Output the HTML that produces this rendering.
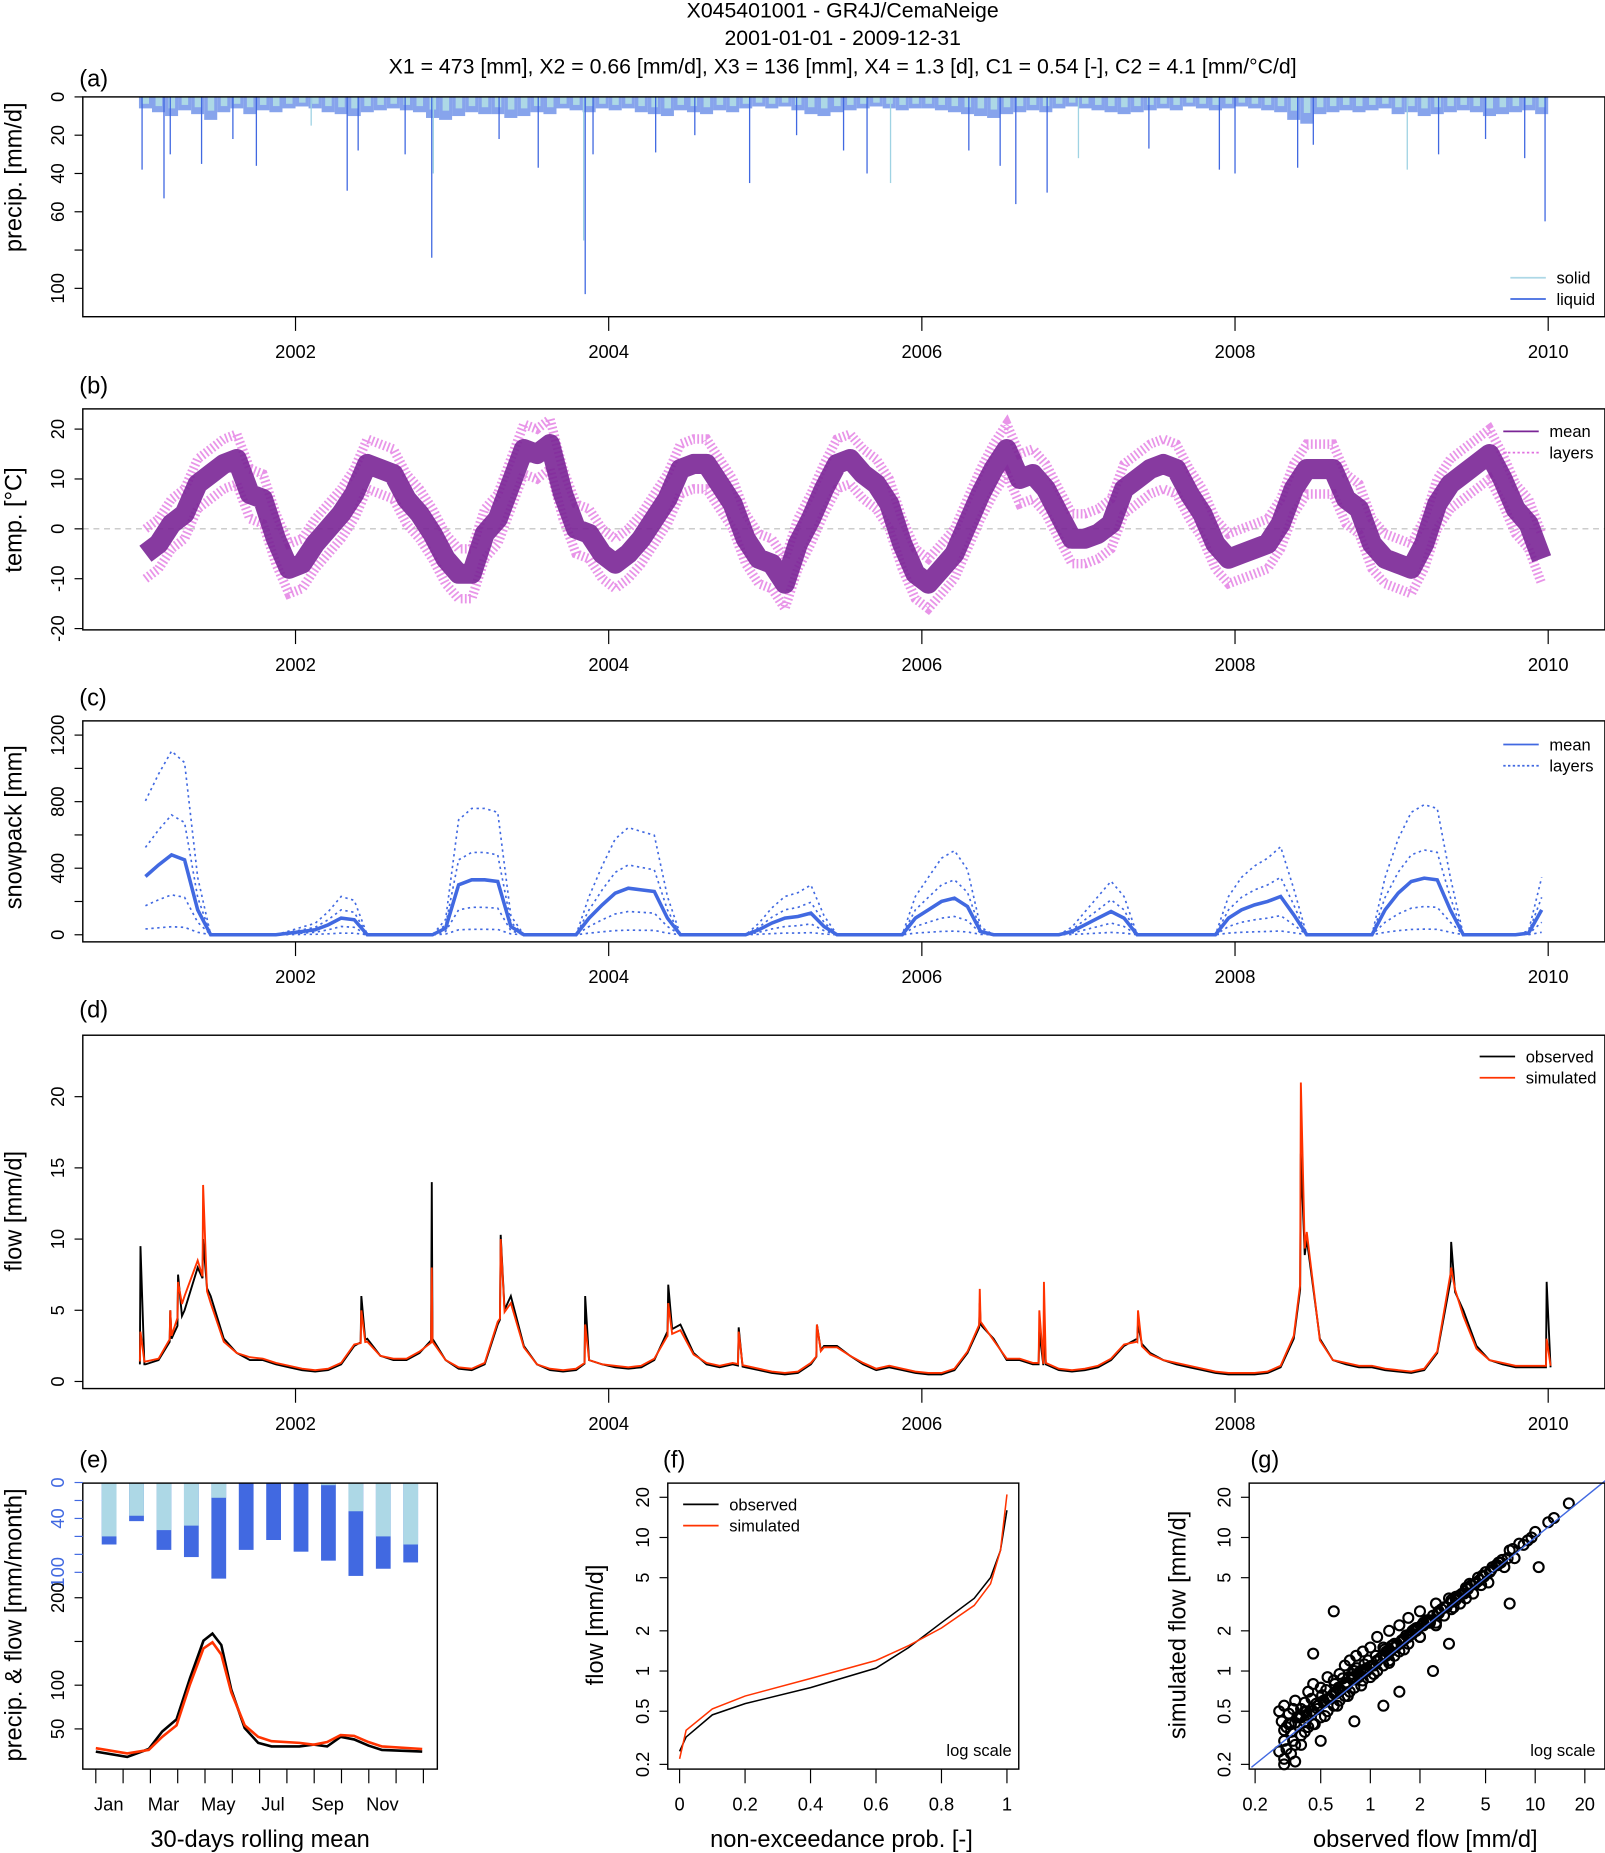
<!DOCTYPE html>
<html><head><meta charset="utf-8"><style>
html,body{margin:0;padding:0;background:#fff}
svg{display:block;font-family:"Liberation Sans",Arial,sans-serif}
</style></head><body>
<svg id="chart" xmlns="http://www.w3.org/2000/svg" width="1605" height="1853" viewBox="0 0 1358 1568">
<g font-size="18" text-anchor="middle">
<text x="713" y="15">X045401001 - GR4J/CemaNeige</text>
<text x="713" y="38">2001-01-01 - 2009-12-31</text>
<text x="713" y="62">X1 = 473 [mm], X2 = 0.66 [mm/d], X3 = 136 [mm], X4 = 1.3 [d], C1 = 0.54 [-], C2 = 4.1 [mm/°C/d]</text>
</g>
</svg>
<script>
// ---------- data ----------
const years=[2002,2004,2006,2008,2010];
const precipEventT=[2001.02,2001.16,2001.2,2001.4,2001.6,2001.75,2002.1,2002.33,2002.4,2002.7,2002.87,2002.88,2003.3,2003.55,2003.84,2003.85,2003.9,2004.3,2004.55,2004.9,2005.2,2005.5,2005.65,2005.8,2006.3,2006.5,2006.6,2006.8,2007.0,2007.45,2007.9,2008.0,2008.4,2008.5,2009.1,2009.3,2009.6,2009.85,2009.98];
const precipEventMM=[38,53,30,35,22,36,15,49,28,30,84,40,22,37,75,103,30,29,20,45,20,28,40,45,28,36,56,50,32,27,38,40,37,25,38,30,22,32,65];
const precipEventSolid=[0,0,0,0,0,0,1,0,0,0,0,1,0,0,1,0,0,0,0,0,0,0,0,1,0,0,0,0,1,0,0,0,0,0,1,0,0,0,0];
const precipFringe=[6,8,10,7,9,12,8,6,9,7,8,6,5,6,8,9,10,8,7,6,7,8,11,12,10,8,9,9,11,10,8,9,6,7,8,6,7,6,8,9,10,7,8,9,7,8,6,5,6,5,7,9,10,8,7,6,5,6,7,6,6,7,8,9,10,11,9,8,7,8,6,5,6,7,8,9,8,7,6,7,5,6,7,6,5,6,7,8,12,14,9,8,7,8,7,6,9,8,10,9,8,7,8,10,9,8,7,9];
const tempMean=[-5,-3,1,3,9,11,13,14,7,6,-2,-8,-7,-3,0,3,7,13,12,11,6,3,-1,-6,-9,-9,-1,2,9,16,15,17,7,0,-1,-5,-7,-5,-2,2,6,12,13,13,9,5,-2,-6,-7,-11,-3,2,8,13,14,11,9,5,-3,-9,-11,-8,-5,1,7,12,16,10,11,8,3,-2,-2,-1,1,8,10,12,13,12,7,3,-3,-6,-5,-4,-3,1,8,12,12,12,6,4,-3,-6,-7,-8,-3,5,9,11,13,15,10,4,1,-6];
const tempLayerOffsets=[-5,5];
const snowMean=[350,420,480,450,150,0,0,0,0,0,0,10,20,30,60,100,90,0,0,0,0,0,0,40,300,330,330,320,50,0,0,0,0,0,100,180,250,280,270,260,100,0,0,0,0,0,0,30,70,100,110,130,50,0,0,0,0,0,0,100,150,200,220,170,20,0,0,0,0,0,0,20,60,100,140,100,0,0,0,0,0,0,0,100,150,180,200,230,120,0,0,0,0,0,0,150,250,320,340,330,150,0,0,0,0,0,10,150];
const snowLayerFactors=[0.1,0.5,1.5,2.3];
const flowObs=[1.2,1.5,3,5,8,6,3,2,1.5,1.5,1.2,1,0.8,0.7,0.8,1.2,2.5,3,1.8,1.5,1.5,2,3,1.5,0.9,0.8,1.2,4,6,2.5,1.2,0.8,0.7,0.8,1.5,1.2,1,0.9,1,1.5,3.5,4,2,1.2,1,1.2,1,0.8,0.6,0.5,0.6,1.2,2.5,2.5,1.8,1.2,0.8,1,0.8,0.6,0.5,0.5,0.8,2,4,3,1.5,1.5,1.2,1.2,0.8,0.7,0.8,1,1.5,2.5,3,2,1.5,1.2,1,0.8,0.6,0.5,0.5,0.5,0.6,1,3,10,3,1.5,1.2,1,1,0.8,0.7,0.6,0.8,2,7,5,2.5,1.5,1.2,1,1,1];
const flowSim=[1.4,1.6,3.2,6,8.5,5.5,2.8,2,1.7,1.6,1.3,1.1,0.9,0.8,0.9,1.3,2.6,2.8,1.8,1.6,1.6,2.1,2.8,1.5,1,0.9,1.3,4.2,5.5,2.4,1.2,0.9,0.8,0.9,1.5,1.2,1.1,1,1.1,1.6,3.2,3.6,1.9,1.3,1.1,1.3,1.1,0.9,0.7,0.6,0.7,1.3,2.4,2.4,1.8,1.3,0.9,1.1,0.9,0.7,0.6,0.6,0.9,2.1,4.2,2.9,1.6,1.6,1.3,1.3,0.9,0.8,0.9,1.1,1.6,2.6,2.8,1.9,1.5,1.3,1.1,0.9,0.7,0.6,0.6,0.6,0.7,1.1,3.2,10.5,2.9,1.5,1.3,1.1,1.1,0.9,0.8,0.7,0.9,2.1,7.5,4.6,2.3,1.5,1.3,1.1,1.1,1.1];
const spikeT=[2001.01,2001.2,2001.25,2001.41,2002.42,2002.87,2003.31,2003.85,2004.38,2004.83,2005.33,2006.37,2006.75,2006.78,2007.38,2008.42,2009.38,2009.99];
const spikeObs=[9.5,5,7.5,10,6,14,10.3,6,6.8,3.8,4,5.5,3.5,4,4,16,9.8,7];
const spikeSim=[3.5,5,7,13.8,5,8,10,4,5.5,3.5,4,6.5,5,7,5,21,8,3];
const months=["Jan","Mar","May","Jul","Sep","Nov"];
const monthSolid=[60,37,53,48,17,1,0,0,3,32,60,69];
const monthTotal=[69,43,75,83,107,75,64,77,87,104,96,89];
const regimeDay=[0,35,59,74,90,105,120,130,140,151,166,181,196,227,243,258,273,288,304,319,364];
const regimeObs=[24,18,27,47,61,108,151,159,146,95,51,34,30,30,32,30,41,38,31,26,24];
const regimeSim=[28,22,26,41,54,101,142,149,135,92,54,41,36,34,32,35,43,42,35,30,27];
const fdcProb=[0,0.02,0.1,0.2,0.4,0.6,0.7,0.8,0.9,0.95,0.98,1.0];
const fdcObs=[0.25,0.32,0.47,0.57,0.75,1.05,1.5,2.3,3.5,5,8,16];
const fdcSim=[0.22,0.36,0.52,0.65,0.88,1.2,1.55,2.1,3.1,4.5,8,21];
const scatObs=[0.28,0.28,0.3,0.3,0.3,0.32,0.33,0.33,0.35,0.35,0.36,0.38,0.38,0.4,0.4,0.42,0.42,0.45,0.45,0.45,0.48,0.5,0.5,0.52,0.55,0.55,0.58,0.6,0.6,0.62,0.65,0.65,0.7,0.7,0.72,0.75,0.75,0.8,0.8,0.82,0.85,0.9,0.9,0.95,1.0,1.0,1.05,1.1,1.1,1.2,1.2,1.25,1.3,1.3,1.4,1.4,1.5,1.5,1.6,1.7,1.7,1.8,1.9,2.0,2.0,2.2,2.3,2.5,2.5,2.7,2.8,3.0,3.2,3.4,3.5,3.8,4.0,4.2,4.5,5.0,5.2,5.5,6.0,6.5,7.0,7.5,8.0,9.0,10,12,13,16,0.45,0.6,0.38,1.2,2.4,7,10.5,0.3,0.35,0.5,0.8,1.5,3,0.4,0.55,0.7,0.9,1.1,1.4,1.8,2.2,2.8,3.6,4.6,0.33,0.48,0.65,0.85,1.15,1.6,2.1,3.3,5.8,0.37,0.44,0.52,0.62,0.78,0.95,1.25,1.7,2.6,4.1,
0.29,0.31,0.34,0.37,0.41,0.44,0.47,0.51,0.54,0.57,0.61,0.64,0.68,0.71,0.74,0.78,0.83,0.87,0.92,0.97,1.02,1.08,1.15,1.22,1.28,1.35,1.45,1.55,1.65,1.75,1.85,1.95,2.1,2.25,2.4,2.6,2.9,3.1,3.3,3.7,3.9,4.4,4.8,5.3,5.9,6.3,6.8,7.3,8.5,9.5,
0.3,0.32,0.35,0.38,0.41,0.44,0.48,0.52,0.56,0.6,0.66,0.72,0.78,0.85,0.92,1.0,1.1,1.2,1.32,1.45,1.58,1.72,1.9,2.05,2.3,2.55,2.85,3.15,3.5,3.9,4.3,4.9,5.4,6.2,0.31,0.34,0.4,0.46,0.53,0.63,0.73,0.88,1.05,1.3,1.6,2.0,2.5,3.1,3.8,4.7];
const scatSim=[0.5,0.25,0.55,0.3,0.22,0.48,0.35,0.24,0.6,0.28,0.45,0.52,0.33,0.58,0.42,0.7,0.38,0.8,0.5,0.4,0.55,0.75,0.45,0.6,0.9,0.5,0.65,0.85,0.55,0.7,0.95,0.6,1.1,0.65,0.8,1.2,0.7,1.0,0.75,1.3,0.9,1.4,0.85,1.0,1.5,0.9,1.1,1.8,1.0,1.5,1.1,1.3,2.0,1.2,1.6,1.3,2.2,1.4,1.7,2.5,1.6,1.9,2.1,2.8,1.8,2.4,2.3,3.2,2.2,2.9,2.6,3.5,3.0,3.6,3.2,4.2,4.5,3.8,5.0,5.5,4.6,6.0,6.5,6.0,8.0,7.0,9.0,9.5,11,13,14,18,1.35,2.8,0.28,0.55,1.0,3.2,6,0.2,0.21,0.3,0.42,0.7,1.6,0.5,0.62,0.8,1.0,1.2,1.5,2.0,2.3,3.0,3.8,4.8,0.4,0.52,0.72,0.95,1.25,1.75,2.2,3.4,6.2,0.45,0.5,0.58,0.68,0.9,1.05,1.4,1.8,2.8,4.4,
0.42,0.38,0.52,0.46,0.5,0.62,0.57,0.66,0.72,0.62,0.8,0.75,0.88,0.82,0.9,0.95,1.05,1.0,1.12,1.2,1.1,1.3,1.25,1.45,1.4,1.55,1.6,1.7,1.85,1.9,2.05,2.1,2.3,2.4,2.6,2.7,3.0,3.4,3.6,3.8,4.2,4.6,5.2,5.5,6.2,6.8,7.0,8.2,8.8,10,
0.36,0.4,0.41,0.45,0.47,0.5,0.55,0.58,0.62,0.68,0.72,0.78,0.86,0.92,1.0,1.08,1.18,1.3,1.4,1.55,1.7,1.85,2.0,2.2,2.4,2.7,3.0,3.3,3.7,4.1,4.5,5.1,5.7,6.5,0.26,0.3,0.35,0.4,0.46,0.55,0.65,0.78,0.95,1.15,1.45,1.8,2.3,2.9,3.5,4.4];

// ---------- helpers ----------
const NS="http://www.w3.org/2000/svg";
const svg=document.getElementById('chart');
function mk(tag,attrs,parent){const e=document.createElementNS(NS,tag);for(const k in attrs)e.setAttribute(k,attrs[k]);(parent||svg).appendChild(e);return e;}
function txt(x,y,s,size,parent,extra){const e=mk('text',Object.assign({x:x,y:y,'font-size':size},extra||{}),parent);e.textContent=s;return e;}
const X0=117.5, PXY=132.5;
const tx=t=>X0+(t-2001)*PXY;
const mT=m=>2001+(m+0.5)/12;

function panelBox(g,x,y,w,h){const r=mk('rect',{x:x,y:y,width:w,height:h,fill:'none',stroke:'#000','stroke-width':1.2},g);

}
function yearAxis(g,bottom){const ax=mk('g',{},g);


years.forEach(y=>{mk('line',{x1:tx(y),x2:tx(y),y1:bottom,y2:bottom+12,stroke:'#000'},ax);
const t=txt(tx(y),bottom+35,String(y),15.5,ax,{'text-anchor':'middle'});

});}
function yAxis(g,vals,labels,fy,xl,color){const ax=mk('g',{},g);


vals.forEach((v,i)=>{const y=fy(v);mk('line',{x1:xl-7,x2:xl,y1:y,y2:y,stroke:color||'#000'},ax);
if(labels[i]!==''){const t=txt(xl-16,y,labels[i],15.5,ax,{'text-anchor':'middle',transform:`rotate(-90 ${xl-16} ${y})`,fill:color||'#000'});

}});}
function yTitle(g,x,y,s){const t=txt(x,y,s,20,g,{'text-anchor':'middle',transform:`rotate(-90 ${x} ${y})`});

}
function pLabel(g,x,y,s){const t=txt(x,y,s,20,g);

}
function legend(g,x,y,items){const lg=mk('g',{},g);


items.forEach((it,i)=>{const yy=y+i*18;mk('line',{x1:x,x2:x+30,y1:yy,y2:yy,stroke:it[1],'stroke-width':1.5,'stroke-dasharray':it[2]||'none'},lg);
const t=txt(x+39,yy+5,it[0],14,lg);

});}
function poly(g,pts,attrs){return mk('polyline',Object.assign({points:pts.map(p=>p[0].toFixed(1)+','+p[1].toFixed(1)).join(' '),fill:'none'},attrs),g);}

// ---------- (a) precipitation ----------
(function(){const g=mk('g',{});


const top=82,bot=268,fy=v=>top+v*1.62;
pLabel(g,67,73,'(a)');
precipFringe.forEach((d,m)=>{const x=tx(2001+m/12);const r=mk('rect',{x:x,y:top,width:PXY/12,height:fy(d)-top,fill:'#5f86e6',opacity:0.75},g);


const r2=mk('rect',{x:x+3,y:top,width:PXY/24,height:(fy(d)-top)*0.6,fill:'#add8e6'},g);

});
precipEventT.forEach((t,i)=>{const l=mk('line',{x1:tx(t),x2:tx(t),y1:top,y2:fy(precipEventMM[i]),stroke:precipEventSolid[i]?'#9fd3e3':'#4169e1','stroke-width':1.1},g);

});
panelBox(g,70,top,1288,bot-top);
yAxis(g,[0,20,40,60,80,100],['0','20','40','60','','100'],fy,70);
yTitle(g,18,150,'precip. [mm/d]');
yearAxis(g,bot);
legend(g,1278,235,[['solid','#add8e6'],['liquid','#4169e1']]);})();

// ---------- (b) temperature ----------
(function(){const g=mk('g',{});


const top=346,bot=533,fy=v=>447.5-v*4.22;
pLabel(g,67,333,'(b)');
mk('line',{x1:70,x2:1358,y1:fy(0),y2:fy(0),stroke:'#bbb','stroke-dasharray':'5,4'},g);
tempLayerOffsets.forEach(o=>{const p=poly(g,tempMean.map((v,m)=>[tx(mT(m)),fy(v+o)]),{stroke:'#e070e0','stroke-width':8,'stroke-dasharray':'1.5,2',opacity:0.75});

});
const p=poly(g,tempMean.map((v,m)=>[tx(mT(m)),fy(v)]),{stroke:'#7a2596','stroke-width':17,'stroke-linejoin':'round',opacity:0.9});


panelBox(g,70,top,1288,bot-top);
yAxis(g,[20,10,0,-10,-20],['20','10','0','-10','-20'],fy,70);
yTitle(g,18,440,'temp. [°C]');
yearAxis(g,bot);
legend(g,1272,365,[['mean','#7a2596'],['layers','#e070e0','2,2']]);})();

// ---------- (c) snowpack ----------
(function(){const g=mk('g',{});


const top=610,bot=797,fy=v=>791-v*0.1408;
pLabel(g,67,597,'(c)');
snowLayerFactors.forEach(f=>{const p=poly(g,snowMean.map((v,m)=>[tx(mT(m)),fy(v*f)]),{stroke:'#4169e1','stroke-width':1.4,'stroke-dasharray':'2,3'});

});
const p=poly(g,snowMean.map((v,m)=>[tx(mT(m)),fy(v)]),{stroke:'#4169e1','stroke-width':3});


panelBox(g,70,top,1288,bot-top);
yAxis(g,[0,200,400,600,800,1000,1200],['0','','400','','800','','1200'],fy,70);
yTitle(g,18,700,'snowpack [mm]');
yearAxis(g,bot);
legend(g,1272,630,[['mean','#4169e1'],['layers','#4169e1','2,2']]);})();

// ---------- (d) flow ----------
(function(){const g=mk('g',{});


const top=876,bot=1175,fy=v=>1169-v*12.05;
pLabel(g,67,861,'(d)');
function series(base,spk){const pts=base.map((v,m)=>[mT(m),v]);
function interp(t){for(let i=0;i<pts.length-1;i++){if(t>=pts[i][0]&&t<=pts[i+1][0]){const f=(t-pts[i][0])/(pts[i+1][0]-pts[i][0]);return pts[i][1]*(1-f)+pts[i+1][1]*f;}}return t<pts[0][0]?pts[0][1]:pts[pts.length-1][1];}
const all=pts.slice();spikeT.forEach((t,i)=>{all.push([t-0.004,interp(t-0.004)]);all.push([t,spk[i]]);all.push([t+0.025,interp(t+0.025)]);});
all.sort((a,b)=>a[0]-b[0]);return all.map(p=>[tx(p[0]),fy(p[1])]);}
const po=poly(g,series(flowObs,spikeObs),{stroke:'#000','stroke-width':1.6});


const ps=poly(g,series(flowSim,spikeSim),{stroke:'#ff3300','stroke-width':1.6});


panelBox(g,70,top,1288,bot-top);
yAxis(g,[0,5,10,15,20],['0','5','10','15','20'],fy,70);
yTitle(g,18,1025,'flow [mm/d]');
yearAxis(g,bot);
legend(g,1252,894,[['observed','#000'],['simulated','#ff3300']]);})();

// ---------- (e) regime ----------
(function(){const g=mk('g',{});


const top=1255,bot=1497,fyb=v=>1254.5+v*0.76,fyf=v=>1500-v*0.74,fx=d=>81+d*(277/365);
pLabel(g,67,1242,'(e)');
monthTotal.forEach((tot,m)=>{const x=86+m*23.2;
const r1=mk('rect',{x:x,y:fyb(0),width:12.5,height:fyb(tot)-fyb(0),fill:'#4169e1'},g);


const r2=mk('rect',{x:x,y:fyb(0),width:12.5,height:fyb(monthSolid[m])-fyb(0),fill:'#add8e6'},g);

});
const po=poly(g,regimeDay.map((d,i)=>[fx(d),fyf(regimeObs[i])]),{stroke:'#000','stroke-width':2.2});


const ps=poly(g,regimeDay.map((d,i)=>[fx(d),fyf(regimeSim[i])]),{stroke:'#ff3300','stroke-width':2.2});


panelBox(g,70,top,300,bot-top);
yAxis(g,[0,20,40,60,80,100],['0','','40','','','100'],fyb,70,'#4169e1');
yAxis(g,[50,100,150,200],['50','100','','200'],fyf,70);
yTitle(g,18,1375,'precip. & flow [mm/month]');
const ax=mk('g',{},g);


for(let i=0;i<13;i++){const x=81+i*23.1;mk('line',{x1:x,x2:x,y1:bot,y2:bot+12,stroke:'#000'},ax);}
months.forEach((mn,i)=>{const t=txt(92+i*46.3,1532,mn,15.5,ax,{'text-anchor':'middle'});

});
const xt=txt(220,1563,'30-days rolling mean',20,g,{'text-anchor':'middle'});

})();

// ---------- log helpers ----------
const logTicks=[0.2,0.5,1,2,5,10,20];
const fyl=v=>1493-Math.log10(v/0.2)*113;

// ---------- (f) FDC ----------
(function(){const g=mk('g',{});


const top=1255,bot=1497,fx=p=>575+p*277;
pLabel(g,561,1242,'(f)');
const po=poly(g,fdcProb.map((p,i)=>[fx(p),fyl(fdcObs[i])]),{stroke:'#000','stroke-width':1.3});


const ps=poly(g,fdcProb.map((p,i)=>[fx(p),fyl(fdcSim[i])]),{stroke:'#ff3300','stroke-width':1.3});


panelBox(g,565,top,297,bot-top);
yAxis(g,logTicks,logTicks.map(String),fyl,565);
yTitle(g,510,1375,'flow [mm/d]');
const ax=mk('g',{},g);


[0,0.2,0.4,0.6,0.8,1].forEach(p=>{mk('line',{x1:fx(p),x2:fx(p),y1:bot,y2:bot+12,stroke:'#000'},ax);
const t=txt(fx(p),1532,String(p),15.5,ax,{'text-anchor':'middle'});

});
const xt=txt(712,1563,'non-exceedance prob. [-]',20,g,{'text-anchor':'middle'});


legend(g,578,1273,[['observed','#000'],['simulated','#ff3300']]);
const ls=txt(856,1486,'log scale',14,g,{'text-anchor':'end'});

})();

// ---------- (g) scatter ----------
(function(){const g=mk('g',{});


const top=1255,bot=1497,fx=v=>1062+Math.log10(v/0.2)*139.5;
pLabel(g,1058,1242,'(g)');
const n=Math.min(scatObs.length,scatSim.length);
for(let i=0;i<n;i++){const c=mk('circle',{cx:fx(scatObs[i]),cy:fyl(scatSim[i]),r:4.2,fill:'none',stroke:'#000','stroke-width':1.8},g);

}
const d=mk('line',{x1:fx(0.19),y1:fyl(0.19),x2:fx(28),y2:fyl(28),stroke:'#4169e1','stroke-width':1.2},g);


panelBox(g,1057,top,301,bot-top);
yAxis(g,logTicks,logTicks.map(String),fyl,1057);
yTitle(g,1003,1375,'simulated flow [mm/d]');
const ax=mk('g',{},g);


logTicks.forEach(v=>{mk('line',{x1:fx(v),x2:fx(v),y1:bot,y2:bot+12,stroke:'#000'},ax);
const t=txt(fx(v),1532,String(v),15.5,ax,{'text-anchor':'middle'});

});
const xt=txt(1206,1563,'observed flow [mm/d]',20,g,{'text-anchor':'middle'});


const ls=txt(1350,1486,'log scale',14,g,{'text-anchor':'end'});

})();
</script>
</body></html>
